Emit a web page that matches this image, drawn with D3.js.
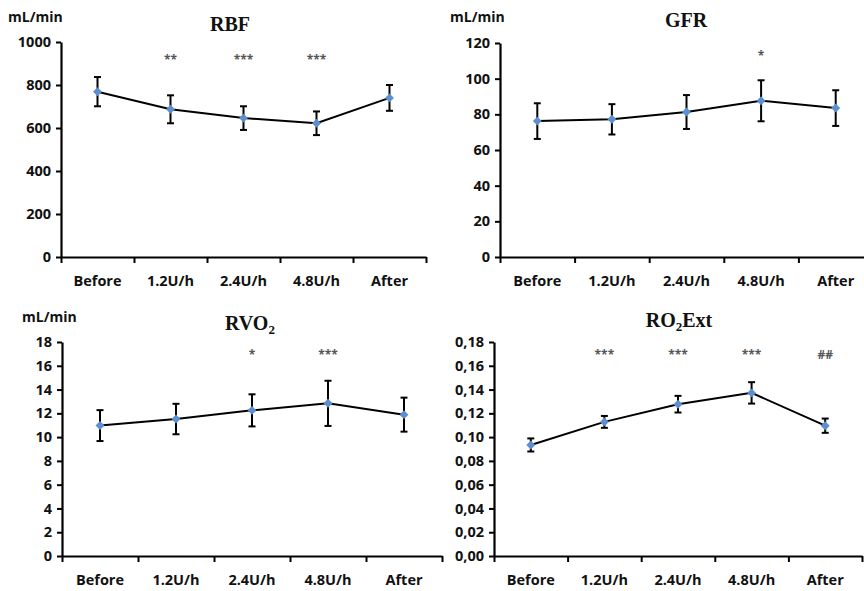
<!DOCTYPE html>
<html>
<head>
<meta charset="utf-8">
<script src="https://cdn.jsdelivr.net/npm/d3@7"></script>
<style>
  body { margin: 0; background: #fff; }
  svg { display: block; }
  .tick text { font-family: "Open Sans", sans-serif; font-weight: bold; fill: #111; }
</style>
</head>
<body>
<div id="chart"></div>
<script>
// data (mean, error bar half-length, significance marks)
var categories = ["Before", "1.2U/h", "2.4U/h", "4.8U/h", "After"];

var rbfMean = [769, 687, 646, 622, 740];
var rbfErr  = [68, 65, 55, 55, 60];
var rbfSig  = ["", "**", "***", "***", ""];
var rbfTicks = [0, 200, 400, 600, 800, 1000];

var gfrMean = [76.2, 77.2, 81.3, 87.6, 83.5];
var gfrErr  = [10, 8.5, 9.5, 11.5, 10];
var gfrSig  = ["", "", "", "*", ""];
var gfrTicks = [0, 20, 40, 60, 80, 100, 120];

var rvoMean = [10.97, 11.52, 12.25, 12.84, 11.89];
var rvoErr  = [1.3, 1.28, 1.35, 1.9, 1.43];
var rvoSig  = ["", "", "*", "***", ""];
var rvoTicks = [0, 2, 4, 6, 8, 10, 12, 14, 16, 18];

var extMean = [0.0934, 0.1128, 0.1277, 0.1372, 0.1096];
var extErr  = [0.0055, 0.005, 0.007, 0.009, 0.006];
var extSig  = ["", "***", "***", "***", "##"];
var extTicks = [0, 0.02, 0.04, 0.06, 0.08, 0.10, 0.12, 0.14, 0.16, 0.18];

var W = 864, H = 591;
var svg = d3.select("#chart").append("svg")
    .attr("width", W)
    .attr("height", H);

var fmtInt = d3.format("d");
var fmtComma = function(d) { return d3.format(".2f")(d).replace(".", ","); };

// each panel: plot box in page pixels
var panels = [
  {title: [["RBF", ""]], mean: rbfMean, err: rbfErr, sig: rbfSig, ticks: rbfTicks, fmt: fmtInt,
   x0: 61, x1: 426, top: 42, bottom: 257, sigDy: 15, tx: 230, ty: 31, unit: [8, 22]},
  {title: [["GFR", ""]], mean: gfrMean, err: gfrErr, sig: gfrSig, ticks: gfrTicks, fmt: fmtInt,
   x0: 500, x1: 873, top: 43, bottom: 257, sigDy: 10, tx: 686, ty: 27, unit: [450, 22]},
  {title: [["RVO", ""], ["2", "sub"]], mean: rvoMean, err: rvoErr, sig: rvoSig, ticks: rvoTicks, fmt: fmtInt,
   x0: 62, x1: 442, top: 342, bottom: 556, sigDy: 10, tx: 250, ty: 330, unit: [22, 322]},
  {title: [["RO", ""], ["2", "sub"], ["Ext", ""]], mean: extMean, err: extErr, sig: extSig, ticks: extTicks, fmt: fmtComma,
   x0: 494, x1: 862, top: 342, bottom: 556, sigDy: 10, tx: 679, ty: 327, unit: null}
];

panels.forEach(function(p) {
  var g = svg.append("g");

  var y = d3.scaleLinear()
    .domain([0, d3.max(p.ticks)])
    .range([p.bottom, p.top]);

  var x = d3.scaleBand()
    .domain(categories)
    .range([p.x0, p.x1]);

  // boundary ticks on x axis
  var xEdge = d3.scaleLinear().domain([0, categories.length]).range([p.x0, p.x1]);

  g.append("g")
    .attr("transform", "translate(0," + p.bottom + ")")
    .call(d3.axisBottom(xEdge).ticks(categories.length).tickFormat("").tickSize(6).tickSizeOuter(0))
    .call(function(a) {
      a.select(".domain").attr("stroke", "#000").attr("stroke-width", 2.2);
      a.selectAll(".tick line").attr("stroke", "#000").attr("stroke-width", 2);
    });

  // category labels
  g.append("g")
    .attr("transform", "translate(0," + p.bottom + ")")
    .call(d3.axisBottom(x).tickSize(0).tickPadding(19))
    .call(function(a) {
      a.select(".domain").remove();
      a.selectAll(".tick text").style("font-size", "14.5px");
    });

  // y axis
  g.append("g")
    .attr("transform", "translate(" + p.x0 + ",0)")
    .call(d3.axisLeft(y).tickValues(p.ticks).tickFormat(p.fmt).tickSize(5).tickPadding(5).tickSizeOuter(0))
    .call(function(a) {
      a.select(".domain").attr("stroke", "#000").attr("stroke-width", 2.2);
      a.selectAll(".tick line").attr("stroke", "#000").attr("stroke-width", 2);
      a.selectAll(".tick text").style("font-size", "14.5px");
    });

  var cx = function(d, i) { return x(categories[i]) + x.bandwidth() / 2; };

  // error bars
  var eb = g.selectAll(".eb")
    .data(p.mean)
    .enter()
    .append("g")
      .attr("class", "eb");
  eb.append("line")
    .attr("x1", cx).attr("x2", cx)
    .attr("y1", function(d, i) { return y(d + p.err[i]); })
    .attr("y2", function(d, i) { return y(d - p.err[i]); })
    .attr("stroke", "#000").attr("stroke-width", 2);
  [1, -1].forEach(function(s) {
    eb.append("line")
      .attr("x1", function(d, i) { return cx(d, i) - 3.5; })
      .attr("x2", function(d, i) { return cx(d, i) + 3.5; })
      .attr("y1", function(d, i) { return y(d + s * p.err[i]); })
      .attr("y2", function(d, i) { return y(d + s * p.err[i]); })
      .attr("stroke", "#000").attr("stroke-width", 2);
  });

  // mean line
  var line = d3.line()
    .x(function(d, i) { return cx(d, i); })
    .y(function(d) { return y(d); });
  g.append("path")
    .datum(p.mean)
    .attr("d", line)
    .attr("fill", "none")
    .attr("stroke", "#000")
    .attr("stroke-width", 2);

  // diamond markers
  g.selectAll(".mk")
    .data(p.mean)
    .enter()
    .append("path")
      .attr("class", "mk")
      .attr("d", d3.symbol(d3.symbolSquare, 40))
      .attr("transform", function(d, i) { return "translate(" + cx(d, i) + "," + y(d) + ") rotate(45)"; })
      .attr("fill", "#5b8fd2");

  // significance marks
  g.selectAll(".sig")
    .data(p.sig)
    .enter()
    .append("text")
      .attr("class", "sig")
      .attr("x", function(d, i) { return cx(d, i); })
      .attr("y", p.top + p.sigDy + 7)
      .attr("text-anchor", "middle")
      .style("font-family", "Open Sans, sans-serif")
      .style("font-size", "12px")
      .style("font-weight", "bold")
      .attr("fill", "#555")
      .text(function(d) { return d; });

  // title
  var t = g.append("text")
    .attr("x", p.tx)
    .attr("y", p.ty)
    .attr("text-anchor", "middle")
    .style("font-family", "Liberation Serif, serif")
    .style("font-weight", "bold")
    .style("font-size", "20px")
    .attr("fill", "#111");
  p.title.forEach(function(part) {
    var ts = t.append("tspan").text(part[0]);
    if (part[1] == "sub") ts.attr("dy", 4).style("font-size", "13px");
    else if (t.selectAll("tspan").size() > 1) ts.attr("dy", -4);
  });

  // unit label
  if (p.unit) {
    g.append("text")
      .attr("x", p.unit[0])
      .attr("y", p.unit[1])
      .style("font-family", "Open Sans, sans-serif")
      .style("font-weight", "bold")
      .style("font-size", "14px")
      .attr("fill", "#111")
      .text("mL/min");
  }
});
</script>
</body>
</html>
